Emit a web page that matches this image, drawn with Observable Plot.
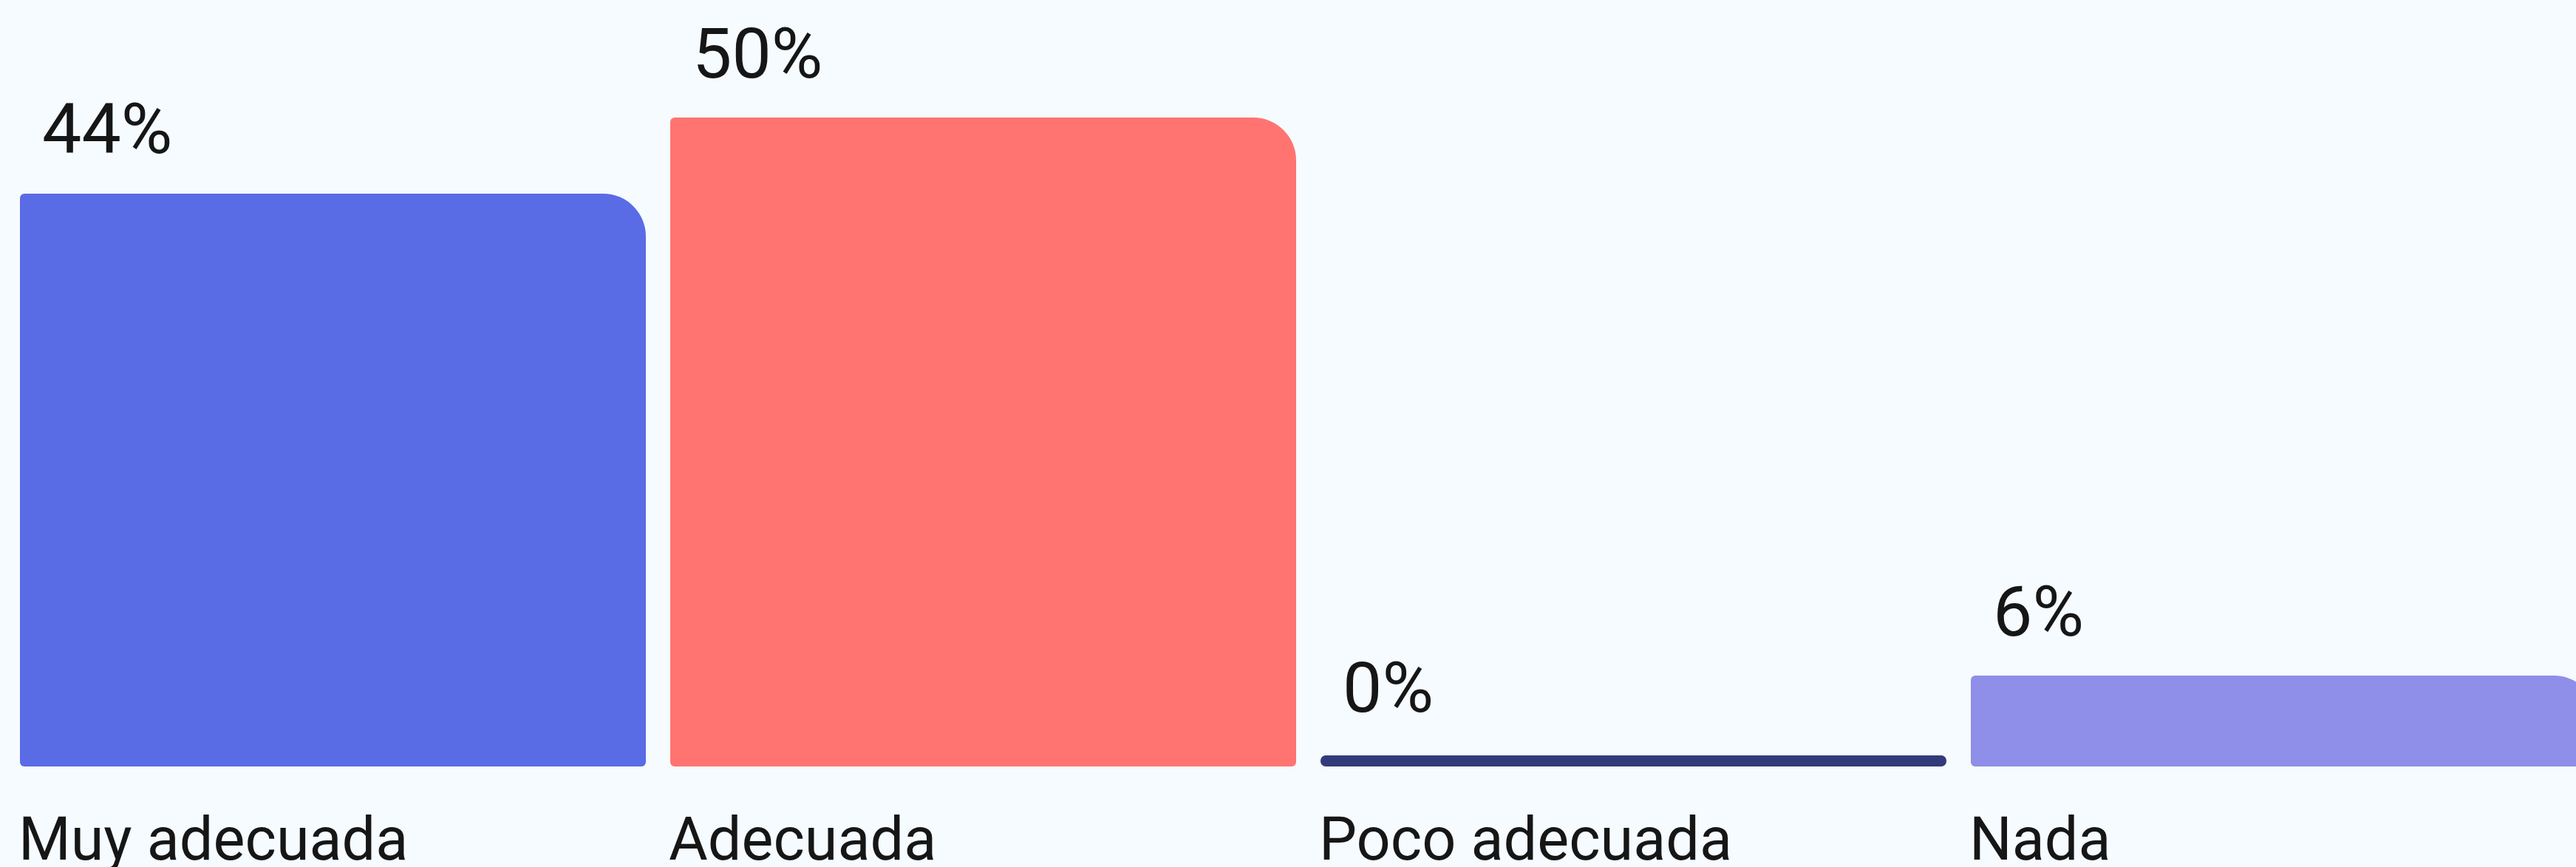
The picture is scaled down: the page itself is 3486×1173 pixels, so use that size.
<!DOCTYPE html>
<html>
<head>
<meta charset="utf-8">
<script src="https://cdn.jsdelivr.net/npm/d3@7"></script>
<script src="https://cdn.jsdelivr.net/npm/@observablehq/plot@0.6"></script>
<style>
  html, body { margin: 0; padding: 0; background: #F5FBFE; overflow: hidden; }
  #chart svg { overflow: hidden; display: block; }
</style>
</head>
<body>
<div id="chart"></div>
<script>
const categories = ["Muy adecuada", "Adecuada", "Poco adecuada", "Nada"];
const values = [44, 50, 0, 6];
const colors = ["#5A6BE6", "#FF7471", "#323B7A", "#8F8EE9"];

const data = categories.map((c, i) => ({category: c, value: values[i], label: values[i] + "%"}));

const chart = Plot.plot({
  width: 3486,
  height: 1173,
  marginTop: 0, marginRight: 0, marginBottom: 0, marginLeft: 0,
  style: {background: "#F5FBFE", fontFamily: "Roboto, sans-serif", color: "#161616"},
  x: {domain: categories, range: [27, 3514], paddingInner: 0.0375, paddingOuter: 0, axis: null},
  y: {domain: [0, 50], range: [1017, 159], axis: null},
  color: {domain: categories, range: colors},
  marks: [
    Plot.barY(data.filter(d => d.value > 0), {
      x: "category", y: "value", fill: "category",
      insetBottom: -20,
      rx1y1: 6, rx2y1: 58, rx1y2: 6, rx2y2: 6
    }),
    Plot.barY(data.filter(d => d.value === 0), {
      x: "category", y: "value", fill: "category",
      insetTop: 5, insetBottom: -20,
      r: 7
    }),
    Plot.text(data, {
      x: "category", y: "value", text: "label",
      textAnchor: "start", lineAnchor: "bottom",
      dx: -394, dy: -55,
      fontSize: 95, fill: "#161616", fontFamily: "Roboto"
    }),
    Plot.text(data, {
      x: "category", frameAnchor: "bottom", text: "category",
      textAnchor: "start", lineAnchor: "bottom",
      dx: -426, dy: -11,
      fontSize: 81, fill: "#161616", fontFamily: "Roboto"
    })
  ]
});
document.getElementById("chart").appendChild(chart);
</script>
</body>
</html>
